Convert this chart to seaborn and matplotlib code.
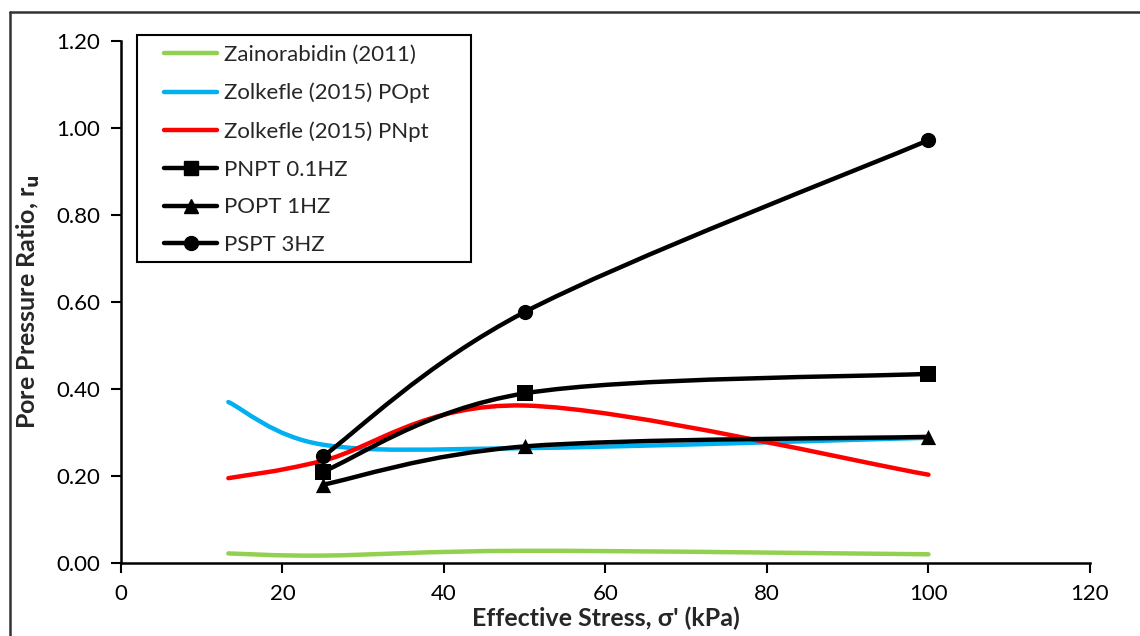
import numpy as np
import seaborn as sns
import matplotlib.pyplot as plt
from matplotlib.path import Path
from matplotlib.patches import PathPatch, Rectangle
from matplotlib.lines import Line2D

# Data
stress_ref = [13.3, 25, 50, 100]
zainorabidin = [0.022, 0.017, 0.028, 0.020]
zolkefle_popt = [0.370, 0.272, 0.264, 0.288]
zolkefle_pnpt = [0.195, 0.235, 0.362, 0.203]

stress_test = [25, 50, 100]
pnpt_01hz = [0.210, 0.390, 0.435]
popt_1hz = [0.180, 0.268, 0.290]
pspt_3hz = [0.245, 0.577, 0.972]

x_ticks = [0, 20, 40, 60, 80, 100, 120]
y_ticks = [0.0, 0.2, 0.4, 0.6, 0.8, 1.0, 1.2]


def smooth_path(x, y):
    # Excel-style smoothed line: cubic Bezier segments through the points
    pts = np.column_stack([x, y]).astype(float)
    n = len(pts)
    verts = [pts[0]]
    codes = [Path.MOVETO]
    for i in range(n - 1):
        p0 = pts[i - 1] if i > 0 else pts[i]
        p1 = pts[i]
        p2 = pts[i + 1]
        p3 = pts[i + 2] if i + 2 < n else pts[i + 1]
        c1 = p1 + (p2 - p0) / 6.0
        c2 = p2 - (p3 - p1) / 6.0
        verts += [c1, c2, p2]
        codes += [Path.CURVE4] * 3
    return Path(verts, codes)


sns.set_style('ticks')
plt.rcParams['font.family'] = ['Lato', 'DejaVu Sans']

W, H = 1140, 636
fig = plt.figure(figsize=(W / 100, H / 100), dpi=100)
ax = fig.add_axes([0.1061, 0.1148, 0.8500, 0.8207])

series = [
    (stress_ref, zainorabidin, '#92d050', None, 'Zainorabidin (2011)'),
    (stress_ref, zolkefle_popt, '#00b0f0', None, 'Zolkefle (2015) POpt'),
    (stress_ref, zolkefle_pnpt, '#ff0000', None, 'Zolkefle (2015) PNpt'),
    (stress_test, pnpt_01hz, 'black', 's', 'PNPT 0.1HZ'),
    (stress_test, popt_1hz, 'black', '^', 'POPT 1HZ'),
    (stress_test, pspt_3hz, 'black', 'o', 'PSPT 3HZ'),
]

handles = []
for xs, ys, color, marker, label in series:
    ax.add_patch(PathPatch(smooth_path(xs, ys), facecolor='none', edgecolor=color,
                           linewidth=3.2, capstyle='round', joinstyle='round', zorder=2))
    if marker is not None:
        sns.scatterplot(x=xs, y=ys, marker=marker, color=color, s=120,
                        edgecolor=color, linewidth=0, ax=ax, zorder=3)
    handles.append(Line2D([], [], color=color, linewidth=3.2, marker=marker,
                          markersize=10, label=label))

ax.set_xlim(0, 120)
ax.set_ylim(0, 1.2)
ax.set_xticks(x_ticks)
ax.set_yticks(y_ticks)
ax.set_yticklabels([f'{v:.2f}' for v in y_ticks])
ax.tick_params(axis='both', labelsize=16, direction='out', length=7, width=1.5,
               colors='black', pad=8)
for side in ['left', 'bottom']:
    ax.spines[side].set_linewidth(1.8)
    ax.spines[side].set_color('black')
sns.despine(ax=ax)

ax.set_xlabel("Effective Stress, σ' (kPa)", fontsize=18, fontweight='bold', labelpad=2)
ax.set_ylabel('Pore Pressure Ratio, r$_\\mathbf{u}$', fontsize=18, fontweight='bold', labelpad=10)

# legend frame spans roughly x 137-471 px, y 35-262 px in the reference
fig.add_artist(Rectangle((137 / W, 1 - 262 / H), 334 / W, 227 / H, transform=fig.transFigure,
                         facecolor='white', edgecolor='black', linewidth=1.5, zorder=4))
leg = fig.legend(handles=handles, loc='upper left', bbox_to_anchor=(164 / W, 1 - 45 / H),
                 frameon=False, fontsize=16, handlelength=2.4, handletextpad=0.3,
                 labelspacing=0.8, borderpad=0, borderaxespad=0)
leg.set_zorder(5)

# Outer chart frame (left and top edges visible)
fig.add_artist(Line2D([10 / W, 10 / W], [0, 1 - 12 / H], color='#333333',
                      linewidth=1.8, transform=fig.transFigure))
fig.add_artist(Line2D([10 / W, 1], [1 - 12 / H, 1 - 12 / H], color='#333333',
                      linewidth=1.8, transform=fig.transFigure))

fig.savefig('out.png', dpi=100)
